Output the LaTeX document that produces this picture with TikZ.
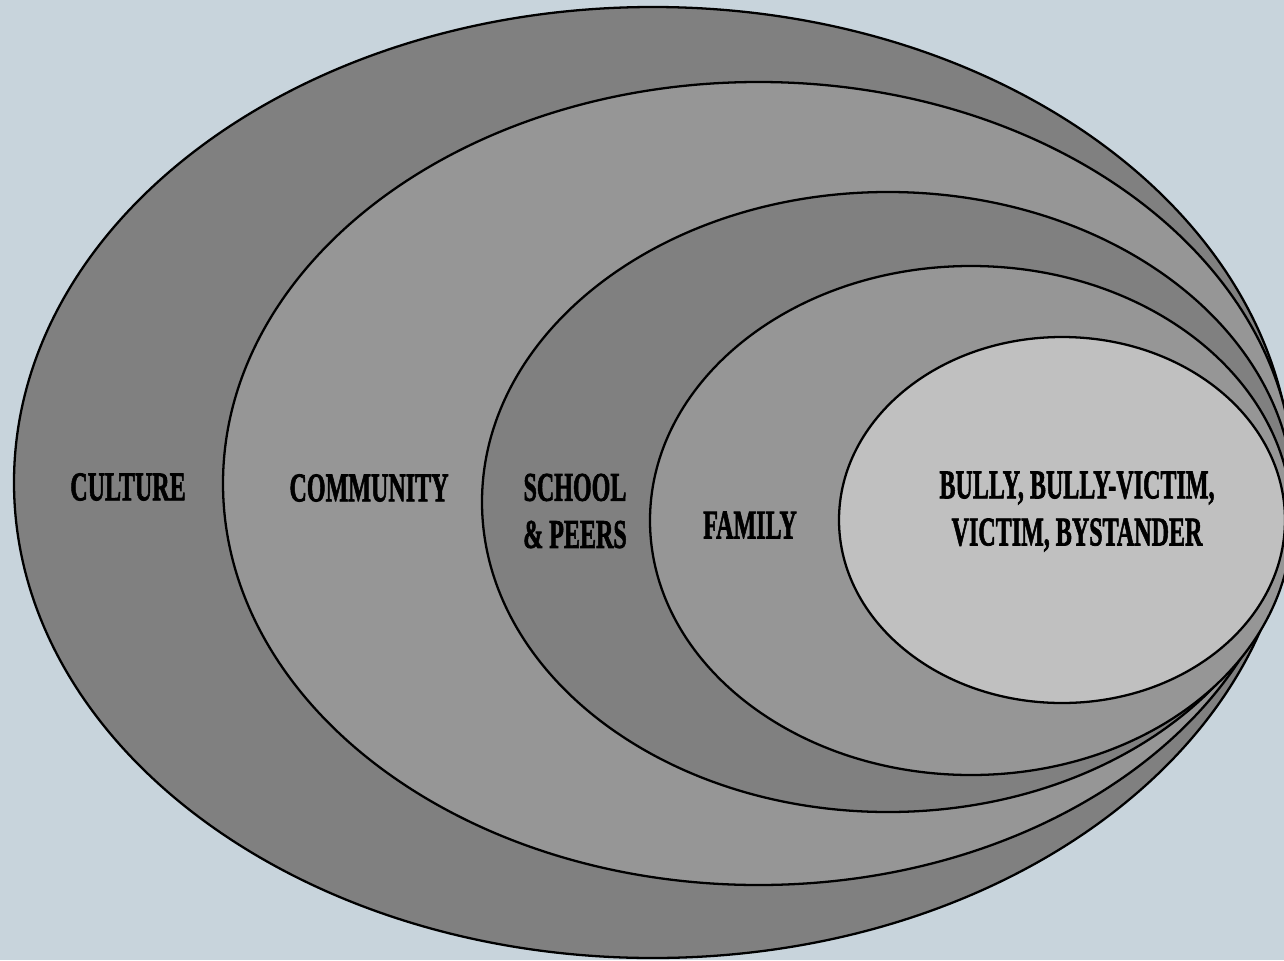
\documentclass[tikz,border=0pt]{standalone}
\usepackage{fontspec}
\setmainfont{Liberation Serif}[BoldFeatures={FakeBold=2}]
\usepackage{tikz}
\definecolor{backdrop}{RGB}{200,212,220}
\definecolor{ringdark}{RGB}{128,128,128}
\definecolor{ringlight}{RGB}{150,150,150}
\definecolor{core}{RGB}{192,192,192}

\begin{document}
\begin{tikzpicture}[ring/.style={draw=black,line width=0.65pt},
  tag/.style={font=\bfseries\fontsize{11.6}{13.4}\selectfont,align=center,xscale=0.59,transform shape}]
  \useasboundingbox (0,0) rectangle (12.84,9.6);
  \fill[backdrop] (0,0) rectangle (12.84,9.6);
  \begin{scope}
    \clip (0,0) rectangle (12.84,9.6);
    \draw[ring,fill=ringdark] (6.53,4.775) ellipse [x radius=6.39, y radius=4.755];
    \draw[ring,fill=ringlight] (7.585,4.765) ellipse [x radius=5.355, y radius=4.015];
    \draw[ring,fill=ringdark] (8.88,4.58) ellipse [x radius=4.06, y radius=3.10];
    \draw[ring,fill=ringlight] (9.71,4.395) ellipse [x radius=3.21, y radius=2.545];
    \draw[ring,fill=core] (10.62,4.40) ellipse [x radius=2.23, y radius=1.83];
  \end{scope}
  \node[tag] (culture) at (1.28,4.73) {CULTURE};
  \node[tag] (community) at (3.69,4.72) {COMMUNITY};
  \node[tag] (school) at (5.75,4.49) {SCHOOL\\\& PEERS};
  \node[tag] (family) at (7.50,4.35) {FAMILY};
  \node[tag] (self) at (10.77,4.485) {BULLY, BULLY-VICTIM,\\VICTIM, BYSTANDER};
\end{tikzpicture}
\end{document}
